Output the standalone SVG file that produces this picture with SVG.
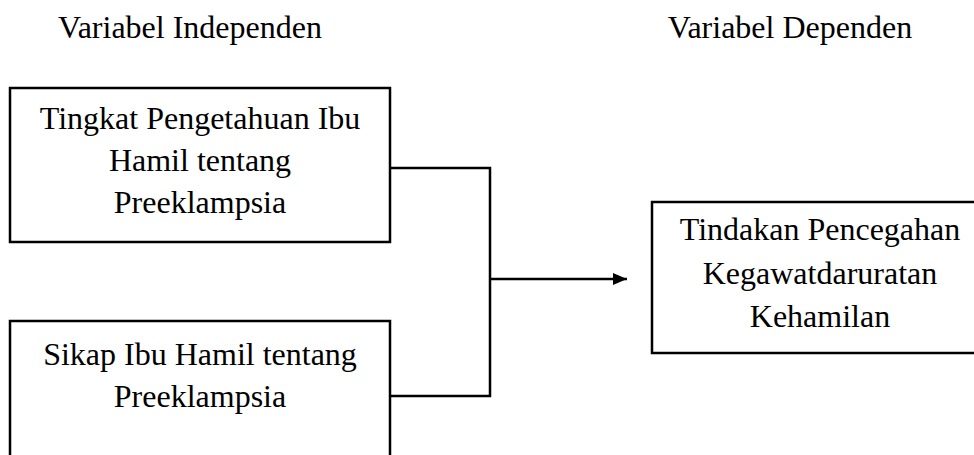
<svg xmlns="http://www.w3.org/2000/svg" width="974" height="455" viewBox="0 0 974 455">
<defs>
<marker id="arrow" markerWidth="14" markerHeight="12" refX="14" refY="6" orient="auto" markerUnits="userSpaceOnUse">
<path d="M0,0 L14,6 L0,12 Z" fill="#000"/>
</marker>
</defs>
<style>
text { font-family: "Liberation Serif", "Times New Roman", serif; font-size: 32px; fill: #000; }
.box { fill: #fff; stroke: #000; stroke-width: 2.5; }
.line { fill: none; stroke: #000; stroke-width: 2.5; }
</style>
<rect width="974" height="455" fill="#fff"/>
<g id="headers">
<text x="190" y="38" text-anchor="middle">Variabel Independen</text>
<text x="790" y="38" text-anchor="middle">Variabel Dependen</text>
</g>
<g id="node-pengetahuan">
<rect class="box" x="10" y="88" width="380" height="154"/>
<text x="200" y="129" text-anchor="middle">Tingkat Pengetahuan Ibu</text>
<text x="200" y="171" text-anchor="middle">Hamil tentang</text>
<text x="200" y="213" text-anchor="middle">Preeklampsia</text>
</g>
<g id="node-sikap">
<rect class="box" x="10" y="321" width="380" height="150"/>
<text x="200" y="365" text-anchor="middle">Sikap Ibu Hamil tentang</text>
<text x="200" y="407" text-anchor="middle">Preeklampsia</text>
</g>
<g id="node-tindakan">
<rect class="box" x="652" y="202" width="340" height="151"/>
<text x="820" y="240" text-anchor="middle">Tindakan Pencegahan</text>
<text x="820" y="284" text-anchor="middle">Kegawatdaruratan</text>
<text x="820" y="327" text-anchor="middle">Kehamilan</text>
</g>
<g id="connectors">
<polyline class="line" points="390,168 490,168 490,396 390,396"/>
<line class="line" x1="490" y1="279" x2="627" y2="279" marker-end="url(#arrow)"/>
</g>
</svg>
